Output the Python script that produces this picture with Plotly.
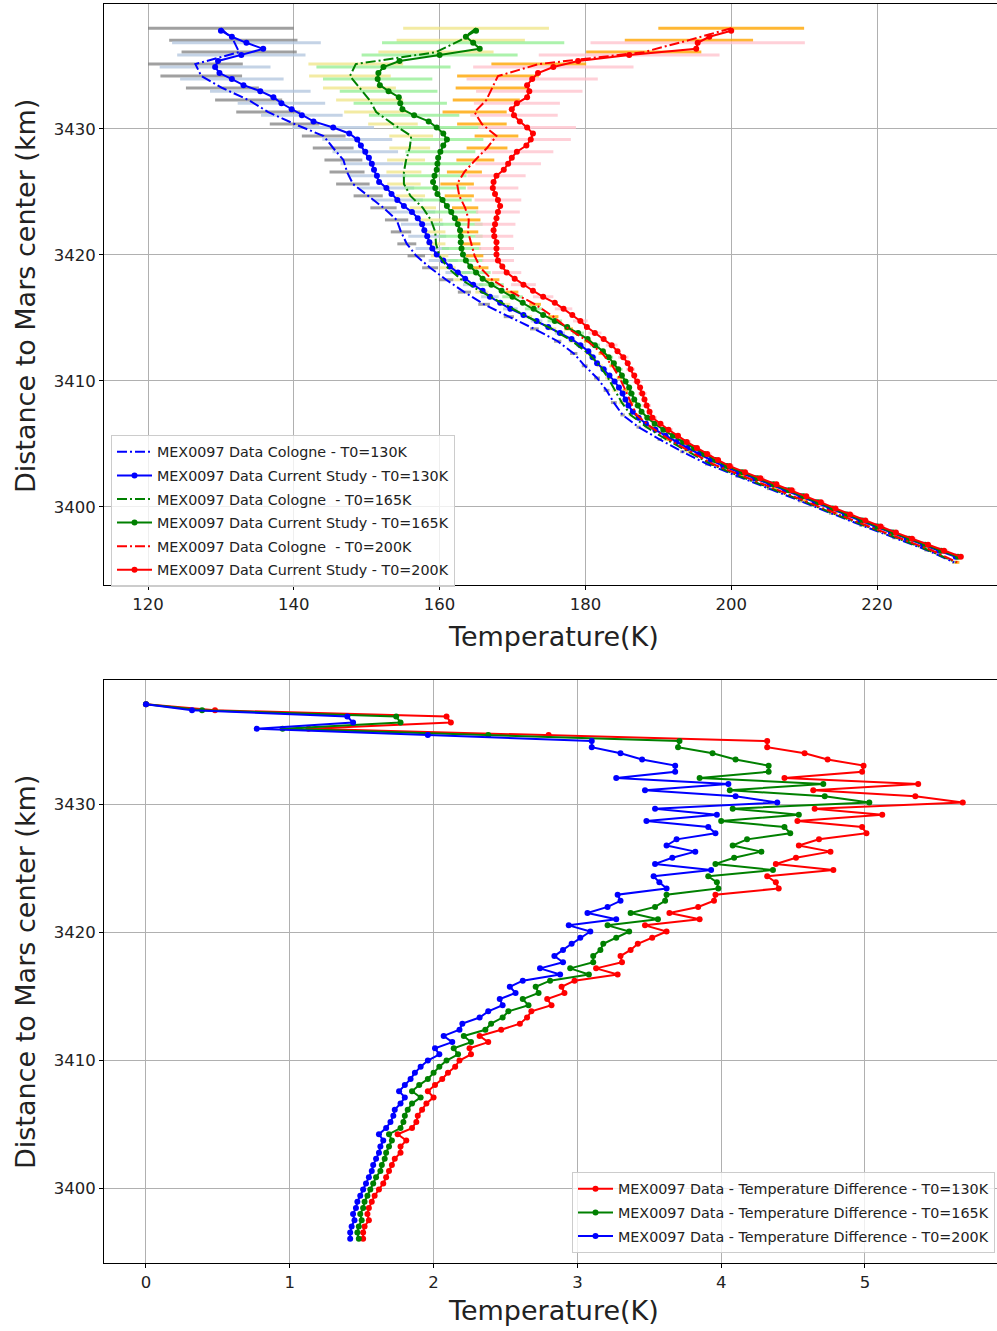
import plotly.graph_objects as go

# ---------------- data ----------------
# altitude grid of the "current study" profiles and of the difference curves (km)
alt = [3437.80, 3437.32, 3436.84, 3436.36, 3435.88, 3435.40, 3434.92, 3434.44, 3433.96, 3433.48,
       3433.00, 3432.52, 3432.04, 3431.56, 3431.08, 3430.60, 3430.12, 3429.64, 3429.16, 3428.68,
       3428.20, 3427.72, 3427.24, 3426.76, 3426.28, 3425.80, 3425.32, 3424.84, 3424.36, 3423.88,
       3423.40, 3422.92, 3422.44, 3421.96, 3421.48, 3421.00, 3420.52, 3420.04, 3419.56, 3419.08,
       3418.60, 3418.12, 3417.64, 3417.16, 3416.68, 3416.20, 3415.72, 3415.24, 3414.76, 3414.28,
       3413.80, 3413.32, 3412.84, 3412.36, 3411.88, 3411.40, 3410.92, 3410.44, 3409.96, 3409.48,
       3409.00, 3408.52, 3408.04, 3407.56, 3407.08, 3406.60, 3406.12, 3405.64, 3405.16, 3404.68,
       3404.20, 3403.72, 3403.24, 3402.76, 3402.28, 3401.80, 3401.32, 3400.84, 3400.36, 3399.88,
       3399.40, 3398.92, 3398.44, 3397.96, 3397.48, 3397.00, 3396.52, 3396.04]

cur_130 = [130.0, 131.5, 133.5, 135.8, 132.8, 129.6, 129.2, 129.8, 131.5, 133.1,
           135.4, 137.2, 138.3, 139.7, 141.1, 142.7, 145.4, 147.6, 148.7, 149.2,
           149.8, 150.3, 150.7, 151.0, 151.4, 151.7, 152.7, 153.4, 154.2, 155.1,
           156.2, 157.0, 157.6, 157.9, 158.3, 158.6, 159.0, 159.6, 160.5, 161.4,
           162.5, 163.5, 164.6, 165.9, 166.9, 168.3, 169.7, 171.5, 173.3, 174.9,
           176.5, 178.1, 179.3, 180.4, 181.0, 181.6, 182.5, 183.3, 184.0, 184.6,
           185.1, 185.5, 185.9, 186.5, 187.3, 188.3, 189.6, 191.0, 192.5, 194.0,
           195.6, 197.2, 198.9, 201.0, 203.2, 205.3, 207.4, 209.5, 211.5, 213.5,
           215.6, 217.7, 219.8, 221.9, 224.1, 226.3, 228.5, 230.8]

cur_165 = [165.0, 163.6, 164.6, 165.5, 160.0, 154.5, 152.3, 151.6, 151.5, 151.8,
           153.0, 154.4, 154.6, 154.9, 156.5, 158.5, 159.6, 160.5, 161.0, 160.5,
           160.1, 159.8, 159.7, 159.6, 159.3, 159.1, 159.4, 159.7, 160.4, 161.0,
           161.6, 162.1, 162.5, 162.8, 162.9, 162.9, 163.0, 163.2, 163.6, 164.2,
           165.0, 165.9, 167.1, 168.5, 170.0, 171.4, 172.9, 174.2, 175.8, 177.5,
           179.0, 180.3, 181.3, 182.4, 183.2, 183.9, 184.5, 185.0, 185.5, 186.0,
           186.3, 186.7, 187.2, 187.7, 188.5, 189.5, 190.7, 192.0, 193.4, 194.9,
           196.3, 197.8, 199.4, 201.5, 203.6, 205.8, 207.9, 209.9, 211.9, 213.9,
           215.9, 218.0, 220.1, 222.2, 224.4, 226.6, 228.8, 231.1]

cur_200 = [200.0, 197.0, 195.4, 195.2, 186.0, 179.0, 175.6, 173.5, 172.7, 172.0,
           172.3, 172.0, 170.6, 169.9, 170.2, 171.0, 172.0, 172.8, 172.5, 171.9,
           170.6, 169.9, 169.4, 168.8, 167.8, 167.4, 167.3, 167.6, 168.0, 168.3,
           168.0, 167.8, 167.6, 167.4, 167.5, 167.8, 167.8, 167.8, 168.0, 168.6,
           169.2, 170.3, 171.5, 172.8, 174.2, 175.8, 177.0, 178.2, 179.3, 180.2,
           181.3, 182.5, 183.6, 184.4, 185.2, 185.8, 186.2, 186.7, 187.1, 187.5,
           187.8, 188.1, 188.4, 188.8, 189.2, 190.3, 191.4, 192.7, 193.9, 195.3,
           196.7, 198.2, 199.8, 201.9, 204.0, 206.2, 208.3, 210.3, 212.3, 214.3,
           216.3, 218.4, 220.5, 222.6, 224.8, 227.0, 229.2, 231.5]

# altitude grid of the Cologne profiles (km)
col_alt = [3438.00, 3437.05, 3436.10, 3435.15, 3434.20, 3433.25, 3432.29, 3431.34, 3430.39, 3429.44,
           3428.49, 3427.54, 3426.59, 3425.64, 3424.69, 3423.74, 3422.78, 3421.83, 3420.88, 3419.93,
           3418.98, 3418.03, 3417.05, 3416.08, 3415.10, 3414.13, 3413.15, 3412.18, 3411.20, 3410.23,
           3409.25, 3408.28, 3407.30, 3406.33, 3405.35, 3404.38, 3403.40, 3402.43, 3401.45, 3400.48,
           3399.50, 3398.53, 3397.55, 3396.58, 3395.60]

col_130 = [130.0, 131.7, 132.5, 126.5, 127.3, 130.2, 133.8, 136.5, 140.1, 144.1,
           145.4, 146.8, 147.3, 148.1, 150.2, 152.3, 154.1, 154.7, 155.5, 156.8,
           158.7, 160.9, 163.4, 166.1, 169.5, 173.0, 176.2, 178.4, 179.9, 181.6,
           182.9, 183.9, 185.1, 187.3, 190.2, 193.3, 196.7, 200.9, 205.2, 209.5,
           213.7, 217.9, 222.4, 226.8, 230.6]

col_165 = [165.0, 162.9, 159.5, 148.5, 147.7, 149.0, 150.4, 151.3, 153.6, 156.1,
           155.9, 155.4, 155.1, 155.1, 156.0, 157.7, 158.8, 159.4, 159.5, 160.0,
           161.1, 163.0, 165.8, 168.9, 172.0, 175.4, 178.2, 180.4, 182.0, 183.1,
           184.1, 185.0, 186.2, 188.4, 191.1, 194.1, 197.2, 201.2, 205.6, 209.8,
           213.9, 218.2, 222.6, 227.0, 230.8]

col_200 = [200.0, 194.2, 188.0, 173.6, 168.0, 167.2, 166.4, 164.8, 165.8, 167.8,
           166.5, 164.9, 163.4, 162.4, 162.7, 163.5, 164.0, 163.9, 164.3, 164.8,
           165.6, 167.2, 169.9, 173.1, 175.6, 177.7, 180.3, 182.3, 183.7, 184.7,
           185.5, 186.2, 187.0, 189.0, 191.5, 194.4, 197.5, 201.7, 206.0, 210.2,
           214.3, 218.5, 223.0, 227.4, 231.0]

# error half-widths (K) of the Cologne profiles (one per Cologne level)
col_err = [10.0, 8.8, 7.9, 6.5, 5.6, 5.0, 4.6, 4.4, 3.4, 3.0,
           2.8, 2.6, 2.4, 2.3, 2.0, 1.8, 1.6, 1.4, 1.3, 1.2,
           1.1, 1.0, 0.9, 0.8, 0.7, 0.6, 0.5, 0.5, 0.4, 0.4,
           0.4, 0.4, 0.3, 0.3, 0.3, 0.3, 0.3, 0.3, 0.3, 0.3,
           0.3, 0.3, 0.3, 0.3, 0.3]

# error half-widths (K) of the current-study profiles (every second level, from the 3rd)
cur_err_130 = [10.2, 8.8, 7.6, 7.1, 6.9, 6.0, 5.6, 5.6, 4.8,
               4.5, 4.3, 4.0, 3.8, 3.5, 3.2, 2.9, 2.6, 2.3, 2.0,
               1.7, 1.4, 1.2, 1.0, 0.8, 0.7, 0.6, 0.5, 0.5, 0.4,
               0.4, 0.4, 0.4, 0.4, 0.4, 0.4, 0.4, 0.4, 0.4, 0.4,
               0.4, 0.4, 0.4, 0.4]
cur_err_165 = [12.5, 10.7, 9.2, 7.5, 6.7, 6.4, 6.2, 6.0, 5.0,
               4.8, 4.6, 4.4, 4.2, 4.0, 3.7, 3.4, 3.0, 2.7, 2.4,
               2.0, 1.7, 1.4, 1.2, 1.0, 0.8, 0.7, 0.6, 0.6, 0.5,
               0.5, 0.5, 0.5, 0.5, 0.5, 0.5, 0.5, 0.5, 0.5, 0.5,
               0.5, 0.5, 0.5, 0.5]
cur_err_200 = [14.7, 12.4, 11.0, 9.0, 7.3, 5.9, 6.0, 6.7, 5.5,
               5.0, 4.5, 4.0, 3.5, 3.2, 3.0, 2.8, 2.6, 2.4, 2.2,
               2.0, 1.7, 1.4, 1.2, 1.0, 0.9, 0.8, 0.7, 0.6, 0.6,
               0.6, 0.6, 0.6, 0.6, 0.6, 0.6, 0.6, 0.6, 0.6, 0.6,
               0.6, 0.6, 0.6, 0.6]

# temperature differences (K), bottom panel
diff_red = [0.00, 0.48, 2.09, 2.12, 1.13, 2.80, 4.32, 4.32, 4.58, 4.74,
            4.99, 4.98, 4.44, 5.37, 4.64, 5.35, 5.68, 4.65, 5.12, 4.53,
            4.98, 5.01, 4.68, 4.54, 4.76, 4.52, 4.38, 4.78, 4.32, 4.38,
            4.40, 3.96, 3.95, 3.84, 3.64, 3.85, 3.47, 3.62, 3.52, 3.42,
            3.37, 3.30, 3.31, 3.13, 3.28, 2.98, 2.89, 2.91, 2.79, 2.82,
            2.68, 2.65, 2.60, 2.47, 2.32, 2.38, 2.25, 2.26, 2.18, 2.15,
            2.10, 2.06, 2.01, 1.96, 2.00, 1.95, 1.92, 1.89, 1.88, 1.85,
            1.75, 1.81, 1.77, 1.77, 1.73, 1.71, 1.69, 1.67, 1.65, 1.62,
            1.59, 1.57, 1.55, 1.54, 1.55, 1.52, 1.51, 1.51]
diff_green = [0.00, 0.39, 1.74, 1.77, 0.95, 2.38, 3.71, 3.70, 3.94, 4.10,
              4.33, 4.33, 3.85, 4.71, 4.06, 4.72, 5.03, 4.08, 4.54, 4.00,
              4.44, 4.48, 4.18, 4.08, 4.28, 4.09, 3.96, 4.36, 3.91, 3.97,
              3.98, 3.62, 3.61, 3.54, 3.37, 3.56, 3.21, 3.36, 3.27, 3.18,
              3.16, 3.11, 3.11, 2.95, 3.08, 2.81, 2.71, 2.73, 2.62, 2.66,
              2.52, 2.48, 2.40, 2.36, 2.21, 2.26, 2.14, 2.17, 2.09, 2.04,
              2.00, 1.96, 1.90, 1.85, 1.91, 1.85, 1.82, 1.80, 1.79, 1.77,
              1.69, 1.71, 1.69, 1.67, 1.66, 1.64, 1.63, 1.60, 1.58, 1.56,
              1.54, 1.52, 1.51, 1.49, 1.50, 1.48, 1.47, 1.48]
diff_blue = [0.00, 0.32, 1.40, 1.44, 0.77, 1.96, 3.10, 3.10, 3.30, 3.45,
             3.68, 3.68, 3.27, 4.05, 3.47, 4.10, 4.39, 3.54, 3.97, 3.48,
             3.91, 3.96, 3.69, 3.62, 3.82, 3.66, 3.54, 3.93, 3.53, 3.57,
             3.62, 3.28, 3.30, 3.21, 3.07, 3.27, 2.94, 3.09, 3.02, 2.96,
             2.90, 2.84, 2.90, 2.74, 2.88, 2.62, 2.53, 2.57, 2.46, 2.48,
             2.38, 2.32, 2.20, 2.18, 2.07, 2.13, 2.01, 2.04, 1.96, 1.91,
             1.87, 1.84, 1.80, 1.76, 1.80, 1.77, 1.73, 1.72, 1.70, 1.67,
             1.62, 1.65, 1.63, 1.62, 1.60, 1.58, 1.57, 1.55, 1.53, 1.51,
             1.49, 1.47, 1.46, 1.44, 1.45, 1.43, 1.42, 1.42]

x_ticks_top = [120, 140, 160, 180, 200, 220]
x_ticks_bot = [0, 1, 2, 3, 4, 5]
y_ticks = [3400, 3410, 3420, 3430]

# ---------------- figure ----------------
FONT = "DejaVu Sans"
W, H = 997, 1331
ML, MR, MT, MB = 104, 0, 4, 68
PH = H - MT - MB


def py(px):  # pixel row -> paper y
    return (H - MB - px) / PH


def px_x(px):  # pixel column -> paper x
    return (px - ML) / (W - ML - MR)


fig = go.Figure()

alt_bar = alt[2::2]


def ebar(x, y, err, color, xa, ya):
    return go.Scatter(x=x, y=y, mode="markers", xaxis=xa, yaxis=ya,
                      marker=dict(size=1, color="rgba(0,0,0,0)"),
                      error_x=dict(type="data", array=err, symmetric=True,
                                   color=color, thickness=3, width=0),
                      showlegend=False, hoverinfo="skip")


# error bars (drawn beneath the lines): Cologne bars first, current-study bars over them
fig.add_trace(ebar(col_130, col_alt, col_err, "rgba(128,128,128,0.75)", "x", "y"))
fig.add_trace(ebar(cur_130[2::2], alt_bar, cur_err_130, "rgba(176,196,222,0.75)", "x", "y"))
fig.add_trace(ebar(col_165, col_alt, col_err, "rgba(240,230,140,0.8)", "x", "y"))
fig.add_trace(ebar(cur_165[2::2], alt_bar, cur_err_165, "rgba(144,238,144,0.75)", "x", "y"))
fig.add_trace(ebar(col_200, col_alt, col_err, "rgba(255,165,0,0.8)", "x", "y"))
fig.add_trace(ebar(cur_200[2::2], alt_bar, cur_err_200, "rgba(255,192,203,0.75)", "x", "y"))

DASHDOT = "10px,3px,2px,3px"
series = [
    ("MEX0097 Data Cologne - T0=130K", "MEX0097 Data Current Study - T0=130K", col_130, cur_130, "#0000ff"),
    ("MEX0097 Data Cologne \u00a0- T0=165K", "MEX0097 Data Current Study - T0=165K", col_165, cur_165, "#008000"),
    ("MEX0097 Data Cologne \u00a0- T0=200K", "MEX0097 Data Current Study - T0=200K", col_200, cur_200, "#ff0000"),
]
gi = 0
for cname, sname, cvals, svals, color in series:
    fig.add_trace(go.Scatter(x=cvals, y=col_alt, mode="lines", name=cname,
                             line=dict(color=color, width=2, dash=DASHDOT),
                             xaxis="x", yaxis="y", legend="legend", legendgroup=f"g{gi}"))
    gi += 1
    fig.add_trace(go.Scatter(x=svals, y=alt, mode="lines+markers", name=sname,
                             line=dict(color=color, width=2),
                             marker=dict(color=color, size=6),
                             xaxis="x", yaxis="y", legend="legend", legendgroup=f"g{gi}"))
    gi += 1

diff_series = [
    ("MEX0097 Data - Temperature Difference - T0=130K", diff_red, "#ff0000"),
    ("MEX0097 Data - Temperature Difference - T0=165K", diff_green, "#008000"),
    ("MEX0097 Data - Temperature Difference - T0=200K", diff_blue, "#0000ff"),
]
for name, vals, color in diff_series:
    fig.add_trace(go.Scatter(x=vals, y=alt, mode="lines+markers", name=name,
                             line=dict(color=color, width=2),
                             marker=dict(color=color, size=6),
                             xaxis="x2", yaxis="y2", legend="legend2", legendgroup=f"g{gi}"))
    gi += 1

axis_common = dict(showgrid=True, gridcolor="#b0b0b0", gridwidth=1, zeroline=False,
                   showline=True, linecolor="black", linewidth=1, mirror=True,
                   ticks="outside", ticklen=4, tickcolor="black",
                   tickfont=dict(family=FONT, size=16.5, color="#222"))

top_dom = [py(585), 1.0]
bot_dom = [0.0, py(680)]

legend_common = dict(bgcolor="rgba(255,255,255,0.8)", bordercolor="#cccccc", borderwidth=1,
                     font=dict(family=FONT, size=14.3, color="#222"), tracegroupgap=2,
                     itemwidth=35)

fig.update_layout(
    width=W, height=H,
    margin=dict(l=ML, r=MR, t=MT, b=MB),
    paper_bgcolor="white", plot_bgcolor="white",
    font=dict(family=FONT, color="#222"),
    xaxis=dict(domain=[0, 1], anchor="y", range=[113.96, 236.46], tickvals=x_ticks_top, **axis_common),
    yaxis=dict(domain=top_dom, anchor="x", range=[3393.8, 3439.92], tickvals=y_ticks, **axis_common),
    xaxis2=dict(domain=[0, 1], anchor="y2", range=[-0.292, 5.918], tickvals=x_ticks_bot, **axis_common),
    yaxis2=dict(domain=bot_dom, anchor="x2", range=[3394.14, 3439.69], tickvals=y_ticks, **axis_common),
    legend=dict(x=px_x(111), y=py(435), xanchor="left", yanchor="top", **legend_common),
    legend2=dict(x=px_x(995), y=py(1253), xanchor="right", yanchor="bottom", **legend_common),
    showlegend=True,
)

title_font = dict(family=FONT, size=27, color="#222")
fig.add_annotation(text="Distance to Mars center (km)", xref="paper", yref="paper",
                   x=px_x(25), y=py(296), textangle=-90, showarrow=False,
                   xanchor="center", yanchor="middle", font=title_font)
fig.add_annotation(text="Distance to Mars center (km)", xref="paper", yref="paper",
                   x=px_x(25), y=py(972), textangle=-90, showarrow=False,
                   xanchor="center", yanchor="middle", font=title_font)
fig.add_annotation(text="Temperature(K)", xref="paper", yref="paper",
                   x=px_x(553), y=py(636), showarrow=False,
                   xanchor="center", yanchor="middle", font=title_font)
fig.add_annotation(text="Temperature(K)", xref="paper", yref="paper",
                   x=px_x(553), y=py(1310), showarrow=False,
                   xanchor="center", yanchor="middle", font=title_font)

fig.write_html("out.html")
